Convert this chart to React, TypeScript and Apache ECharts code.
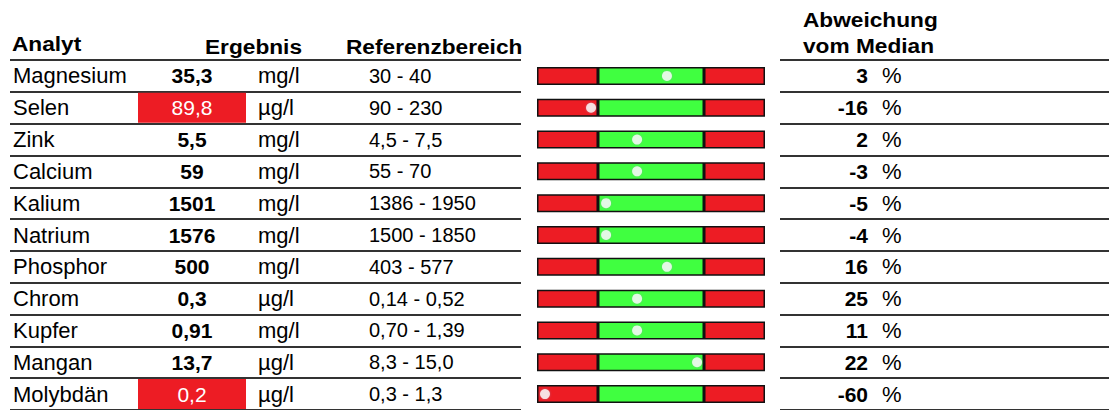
import React, { useEffect, useRef } from "react";
import * as echarts from "echarts";

const analytes = ["Magnesium", "Selen", "Zink", "Calcium", "Kalium", "Natrium", "Phosphor", "Chrom", "Kupfer", "Mangan", "Molybdän"];
const results = ["35,3", "89,8", "5,5", "59", "1501", "1576", "500", "0,3", "0,91", "13,7", "0,2"];
const outOfRange = [false, true, false, false, false, false, false, false, false, false, true];
const units = ["mg/l", "µg/l", "mg/l", "mg/l", "mg/l", "mg/l", "mg/l", "µg/l", "mg/l", "µg/l", "µg/l"];
const ranges = ["30 - 40", "90 - 230", "4,5 - 7,5", "55 - 70", "1386 - 1950", "1500 - 1850", "403 - 577", "0,14 - 0,52", "0,70 - 1,39", "8,3 - 15,0", "0,3 - 1,3"];
const deviations = [3, -16, 2, -3, -5, -4, 16, 25, 11, 22, -60];
// position of the white marker along the band (0..100 of full band)
const markerPos = [57, 23.7, 43.9, 43.9, 30.3, 30.3, 57, 43.9, 43.9, 70.2, 3.5];
// band segments: below range / in range / above range
const bandSegments = [26.75, 46.5, 26.75];
const headers = {
  analyt: "Analyt",
  ergebnis: "Ergebnis",
  referenz: "Referenzbereich",
  abw1: "Abweichung",
  abw2: "vom Median",
};

const FONT = '"Liberation Sans", Arial, sans-serif';
const RED = "#ED1C24";
const GREEN = "#40FF40";
const LINE = "#333333";

export default function App() {
  const ref = useRef<HTMLDivElement>(null);
  useEffect(() => {
    if (!ref.current) return;
    const chart = echarts.init(ref.current, undefined, { renderer: "svg" });
    const top = 60;
    const height = 352;
    const catAxis = (gridIndex: number, offset: number, extra: any) => ({
      type: "category" as const,
      data: analytes,
      inverse: true,
      gridIndex,
      position: "left",
      offset,
      axisLine: { show: false, onZero: false },
      axisTick: { show: false },
      splitLine: { show: false },
      ...extra,
    });
    const label = (o: any) => ({ interval: 0, fontFamily: FONT, color: "#000", ...o });
    const headerText = (text: string, x: number, y: number) => ({
      type: "text",
      x,
      y,
      scaleX: 1.08,
      style: {
        text,
        fill: "#000",
        font: `bold 21px ${FONT}`,
        align: "left",
        verticalAlign: "middle",
      },
    });
    chart.setOption({
      animation: false,
      backgroundColor: "#fff",
      grid: [
        { left: 10, width: 511, top, height },
        { left: 537, width: 228, top, height },
        { left: 780, right: 0, top, height },
      ],
      xAxis: [
        { gridIndex: 0, type: "value", min: 0, max: 1, show: false },
        { gridIndex: 1, type: "value", min: 0, max: 100, show: false },
        { gridIndex: 2, type: "value", min: 0, max: 1, show: false },
      ],
      yAxis: [
        // 0: names + row lines
        catAxis(0, 0, {
          splitLine: { show: true, interval: 0, lineStyle: { color: LINE, width: 2 } },
          axisLabel: label({ inside: true, margin: 3, fontSize: 22 }),
        }),
        // 1: results (centred at x=192)
        catAxis(0, -182, {
          axisLabel: label({
            margin: 0,
            align: "center",
            formatter: (_v: string, i: number) => `{${outOfRange[i] ? "rb" : "r"}|${results[i]}}`,
            rich: {
              r: { fontSize: 21, fontWeight: "bold", fontFamily: FONT, color: "#000" },
              rb: { width: 108, height: 30, lineHeight: 30, align: "center", fontSize: 21, fontFamily: FONT, color: "#fff", backgroundColor: RED },
            },
          }),
        }),
        // 2: units (left at x=258)
        catAxis(0, -248, {
          axisLabel: label({ inside: true, margin: 0, fontSize: 22, formatter: (_v: string, i: number) => units[i] }),
        }),
        // 3: reference range (left at x=369)
        catAxis(0, -359, {
          axisLabel: label({ inside: true, margin: 0, fontSize: 20, formatter: (_v: string, i: number) => ranges[i] }),
        }),
        // 4: band grid
        { ...catAxis(1, 0, {}), show: false },
        // 5: deviation values (right edge x=868) + row lines
        catAxis(2, -88, {
          splitLine: { show: false },
          axisLabel: label({ margin: 0, fontSize: 21, fontWeight: "bold", formatter: (_v: string, i: number) => String(deviations[i]) }),
        }),
        // 6: percent sign (left at x=882)
        catAxis(2, -102, {
          axisLabel: label({ inside: true, margin: 0, fontSize: 22, formatter: () => "%" }),
        }),
        // 7: row lines of right table
        catAxis(2, 0, {
          splitLine: { show: true, interval: 0, lineStyle: { color: LINE, width: 2 } },
          axisLabel: { show: false },
        }),
      ],
      series: [
        ...bandSegments.map((seg, k) => ({
          type: "bar",
          xAxisIndex: 1,
          yAxisIndex: 4,
          stack: "band",
          barWidth: 18,
          silent: true,
          itemStyle: { color: k === 1 ? GREEN : RED, borderColor: "#111", borderWidth: 1.5 },
          data: analytes.map(() => seg),
        })),
        {
          type: "scatter",
          xAxisIndex: 1,
          yAxisIndex: 4,
          symbol: "circle",
          symbolSize: 10,
          z: 5,
          itemStyle: { color: "#fff", shadowBlur: 2, shadowColor: "rgba(150,150,190,0.6)" },
          data: markerPos.map((p, i) => [p, i]),
        },
      ],
      graphic: [
        headerText(headers.analyt, 12, 44),
        headerText(headers.ergebnis, 205, 47),
        headerText(headers.referenz, 346, 47),
        headerText(headers.abw1, 803, 20),
        headerText(headers.abw2, 803, 46),
      ],
    });
    return () => chart.dispose();
  }, []);
  return (
    <div
      ref={ref}
      style={{ position: "fixed", left: 0, top: 0, width: 1109, height: 410, background: "#fff" }}
    />
  );
}
